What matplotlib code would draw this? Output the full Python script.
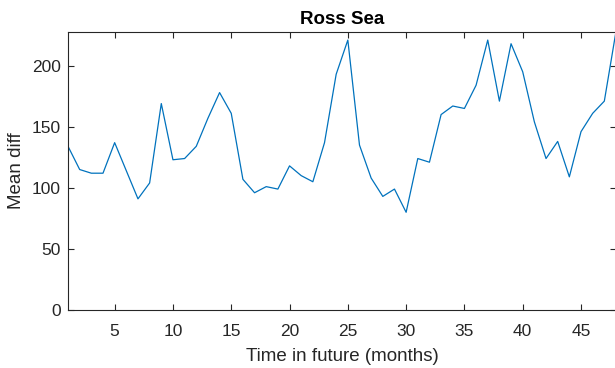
import matplotlib
matplotlib.use("Agg")
import matplotlib.pyplot as plt

plt.rcParams['font.family'] = ['Liberation Sans', 'DejaVu Sans']

# Monthly mean difference, Ross Sea
months = list(range(1, 49))
mean_diff = [134, 115, 112, 112, 137, 114, 91, 104, 169, 123,
             124, 134, 157, 178, 161, 107, 96, 101, 99, 118,
             110, 105, 137, 193, 221, 135, 108, 93, 99, 80,
             124, 121, 160, 167, 165, 184, 221, 171, 218, 195,
             154, 124, 138, 109, 146, 161, 171, 228]

x_ticks = [5, 10, 15, 20, 25, 30, 35, 40, 45]
y_ticks = [0, 50, 100, 150, 200]

axis_color = '#262626'
line_color = '#0072BD'

fig = plt.figure(figsize=(6.15, 3.68), dpi=100)
ax = fig.add_axes([0.1106, 0.1576, 0.891, 0.7568])

ax.plot(months, mean_diff, color=line_color, linewidth=0.9)

ax.set_xlim(1, 48)
ax.set_ylim(0, max(mean_diff))
ax.set_xticks(x_ticks)
ax.set_yticks(y_ticks)

for side in ax.spines.values():
    side.set_color(axis_color)
    side.set_linewidth(0.8)

ax.tick_params(direction='in', top=True, right=True, length=4, width=0.8,
               colors=axis_color, labelsize=12.5, pad=5)
ax.tick_params(axis='x', pad=10)

ax.set_xlabel('Time in future (months)', fontsize=13.5, color=axis_color, labelpad=6.5)
ax.set_ylabel('Mean diff', fontsize=13.5, color=axis_color, labelpad=5)
ax.set_title('Ross Sea', fontsize=13.5, fontweight='bold', color='black', pad=5.5)

fig.savefig('out.png', dpi=100)
